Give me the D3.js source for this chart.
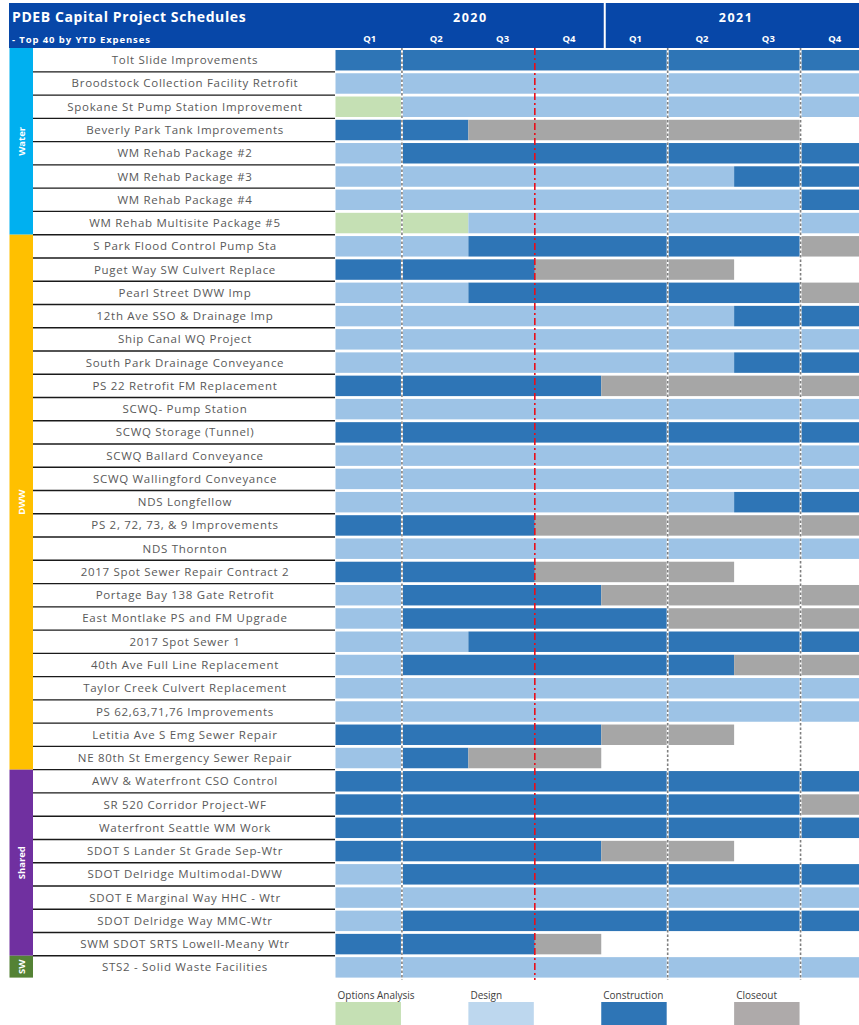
<!DOCTYPE html>
<html lang="en">
    <head>
        <meta charset="utf-8">
        <style>
            body { margin: 0; background: #fff; }
            svg { display: block; font-family: "Open Sans", "Liberation Sans", sans-serif; }
            .label { fill: #595959; font-size: 11.5px; }
            .hdr { fill: #fff; font-weight: bold; }
        </style>
        <script src="https://d3js.org/d3.v7.min.js"></script>
        <title>PDEB Capital Project Schedules</title>
    </head>
    <body>
        <div id="chart"></div>
        <script>
            // project names, top to bottom
            var projects = [
                "Tolt Slide Improvements",
                "Broodstock Collection Facility Retrofit",
                "Spokane St Pump Station Improvement",
                "Beverly Park Tank Improvements",
                "WM Rehab Package #2",
                "WM Rehab Package #3",
                "WM Rehab Package #4",
                "WM Rehab Multisite Package #5",
                "S Park Flood Control Pump Sta",
                "Puget Way SW Culvert Replace",
                "Pearl Street DWW Imp",
                "12th Ave SSO & Drainage Imp",
                "Ship Canal WQ Project",
                "South Park Drainage Conveyance",
                "PS 22 Retrofit FM Replacement",
                "SCWQ- Pump Station",
                "SCWQ Storage (Tunnel)",
                "SCWQ Ballard Conveyance",
                "SCWQ Wallingford Conveyance",
                "NDS Longfellow",
                "PS 2, 72, 73, & 9 Improvements",
                "NDS Thornton",
                "2017 Spot Sewer Repair Contract 2",
                "Portage Bay 138 Gate Retrofit",
                "East Montlake PS and FM Upgrade",
                "2017 Spot Sewer 1",
                "40th Ave Full Line Replacement",
                "Taylor Creek Culvert Replacement",
                "PS 62,63,71,76 Improvements",
                "Letitia Ave S Emg Sewer Repair",
                "NE 80th St Emergency Sewer Repair",
                "AWV & Waterfront CSO Control",
                "SR 520 Corridor Project-WF",
                "Waterfront Seattle WM Work",
                "SDOT S Lander St Grade Sep-Wtr",
                "SDOT Delridge Multimodal-DWW",
                "SDOT E Marginal Way HHC - Wtr",
                "SDOT Delridge Way MMC-Wtr",
                "SWM SDOT SRTS Lowell-Meany Wtr",
                "STS2 - Solid Waste Facilities"
            ];

            // phase per quarter (Q1 2020 .. Q4 2021): O options, D design, C construction, X closeout, - none
            var schedule = [
                "CCCCCCCC", "DDDDDDDD", "ODDDDDDD", "CCXXXXX-",
                "DCCCCCCC", "DDDDDDCC", "DDDDDDDC", "OODDDDDD",
                "DDCCCCCX", "CCCXXX--", "DDCCCCCX", "DDDDDDCC",
                "DDDDDDDD", "DDDDDDCC", "CCCCXXXX", "DDDDDDDD",
                "CCCCCCCC", "DDDDDDDD", "DDDDDDDD", "DDDDDDCC",
                "CCCXXXXX", "DDDDDDDD", "CCCXXX--", "DCCCXXXX",
                "DCCCCXXX", "DDCCCCCC", "DCCCCCXX", "DDDDDDDD",
                "DDDDDDDD", "CCCCXX--", "DCXX----", "CCCCCCCC",
                "CCCCCCCX", "CCCCCCCC", "CCCCXX--", "DCCCCCCC",
                "DDDDDDDD", "DCCCCCCC", "CCCX----", "DDDDDDDD"
            ];

            var groupNames = ["Water", "DWW", "Shared", "SW"];
            var groupSizes = [8, 23, 8, 1];
            var groupColors = ["#00b0f0", "#ffc000", "#7030a0", "#548235"];

            var years = ["2020", "2021"];
            var quarterLabels = ["Q1", "Q2", "Q3", "Q4", "Q1", "Q2", "Q3", "Q4"];

            var phaseCodes = ["O", "D", "C", "X"];
            var phaseNames = ["Options Analysis", "Design", "Construction", "Closeout"];
            var barColors = ["#c5e0b4", "#9dc3e6", "#2e75b6", "#a6a6a6"];
            var legendColors = ["#c5e0b4", "#bdd7ee", "#2e75b6", "#aeaaaa"];

            var grayLines = [1, 5, 7];   // dotted quarter markers
            var todayLine = 3;           // red dash-dot

            var W = 859, H = 1025;
            var svg = d3.select("#chart").append("svg")
                .attr("width", W).attr("height", H);

            var x = d3.scaleLinear().domain([0, 8]).range([335.5, 867]);
            var y = d3.scaleBand().domain(projects)
                .range([48.6, 979]).paddingInner(0.12).paddingOuter(0.06);
            var step = y.step();

            // header band
            svg.append("rect").attr("x", 9).attr("y", 3).attr("width", W - 9).attr("height", 45)
                .attr("fill", "#0747a8");
            svg.append("line").attr("x1", x(4) + 3.5).attr("x2", x(4) + 3.5).attr("y1", 3).attr("y2", 48)
                .attr("stroke", "#fff").attr("stroke-width", 2);
            svg.append("text").attr("class", "hdr").attr("x", 12).attr("y", 22)
                .style("font-size", "14px").style("letter-spacing", "0.6px")
                .text("PDEB Capital Project Schedules");
            svg.append("text").attr("class", "hdr").attr("x", 12).attr("y", 43)
                .style("font-size", "9.5px").style("letter-spacing", "0.9px")
                .text("- Top 40 by YTD Expenses");

            svg.selectAll(".year").data(years).enter().append("text")
                .attr("class", "hdr")
                .attr("x", function(d, i) { return x(i * 4 + 2) + 2; })
                .attr("y", 22)
                .attr("text-anchor", "middle")
                .style("font-size", "12.5px").style("letter-spacing", "1.5px")
                .text(function(d) { return d; });

            svg.selectAll(".qlab").data(quarterLabels).enter().append("text")
                .attr("class", "hdr")
                .attr("x", function(d, i) { return x(i + 0.5) + 1; })
                .attr("y", 42)
                .attr("text-anchor", "middle")
                .style("font-size", "9.5px")
                .text(function(d) { return d; });

            // category bands on the left
            var start = 0;
            groupNames.forEach(function(g, i) {
                var first = projects[start], last = projects[start + groupSizes[i] - 1];
                var y0 = i == 0 ? 48 : y(first) - (step - y.bandwidth()) / 2;
                var y1 = y(last) + y.bandwidth() + (step - y.bandwidth()) / 2;
                if (i == groupNames.length - 1) y1 = y(last) + y.bandwidth();
                svg.append("rect").attr("x", 9.5).attr("y", y0).attr("width", 23.5).attr("height", y1 - y0)
                    .attr("fill", groupColors[i]);
                svg.append("text")
                    .attr("transform", "translate(25," + ((y0 + y1) / 2) + ") rotate(-90)")
                    .attr("text-anchor", "middle")
                    .attr("fill", "#fff")
                    .style("font-size", "9.5px").style("font-weight", "bold")
                    .text(g);
                start += groupSizes[i];
            });

            // row separators in the label column
            svg.selectAll(".sep").data(projects.slice(1)).enter().append("line")
                .attr("x1", 33).attr("x2", 335)
                .attr("y1", function(d) { return y(d) - (step - y.bandwidth()) / 2; })
                .attr("y2", function(d) { return y(d) - (step - y.bandwidth()) / 2; })
                .attr("stroke", "#1a1a1a").attr("stroke-width", 1.4);

            svg.selectAll(".label").data(projects).enter().append("text")
                .attr("class", "label")
                .attr("x", 185)
                .attr("y", function(d) { return y(d) + y.bandwidth() / 2 + 4; })
                .attr("text-anchor", "middle")
                .style("letter-spacing", "0.7px")
                .text(function(d) { return d; });

            // merge consecutive quarters of the same phase into bars
            var bars = [];
            schedule.forEach(function(s, r) {
                var i = 0;
                while (i < s.length) {
                    var j = i;
                    while (j < s.length && s[j] == s[i]) j++;
                    if (s[i] != "-") bars.push({ row: projects[r], phase: phaseCodes.indexOf(s[i]), q0: i, q1: j });
                    i = j;
                }
            });

            svg.append("g").selectAll("rect").data(bars).enter().append("rect")
                .attr("x", function(d) { return x(d.q0); })
                .attr("width", function(d) { return x(d.q1) - x(d.q0); })
                .attr("y", function(d) { return y(d.row); })
                .attr("height", y.bandwidth())
                .attr("fill", function(d) { return barColors[d.phase]; });

            // quarter marker lines
            var gy0 = 48, gy1 = 980;
            grayLines.forEach(function(q) {
                svg.append("line").attr("x1", x(q)).attr("x2", x(q)).attr("y1", gy0).attr("y2", gy1)
                    .attr("stroke", "#fff").attr("stroke-width", 2);
                svg.append("line").attr("x1", x(q)).attr("x2", x(q)).attr("y1", gy0).attr("y2", gy1)
                    .attr("stroke", "#7f7f7f").attr("stroke-width", 1.6).attr("stroke-dasharray", "2.5,2");
            });
            svg.append("line").attr("x1", x(todayLine)).attr("x2", x(todayLine)).attr("y1", gy0).attr("y2", gy1)
                .attr("stroke", "#e8101a").attr("stroke-width", 1.6).attr("stroke-dasharray", "7,3,2,3");

            // legend
            var legendQ = [0, 2, 4, 6];
            phaseNames.forEach(function(p, i) {
                svg.append("text").attr("x", x(legendQ[i]) + 2).attr("y", 999)
                    .attr("fill", "#404040").style("font-size", "10px").text(p);
                svg.append("rect").attr("x", x(legendQ[i])).attr("y", 1002)
                    .attr("width", x(1) - x(0) - 1).attr("height", 24)
                    .attr("fill", legendColors[i]);
            });
        </script>
    </body>
</html>
